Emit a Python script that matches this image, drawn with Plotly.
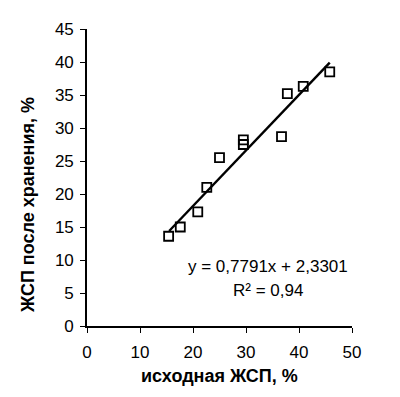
import plotly.graph_objects as go

# Data
x_initial = [15.4, 17.6, 20.9, 22.6, 25.0, 29.5, 29.5, 36.7, 37.8, 40.8, 45.8]
y_after = [13.6, 15.0, 17.3, 21.0, 25.5, 28.2, 27.5, 28.7, 35.2, 36.3, 38.5]
trend_x = [15.5, 45.8]
trend_y = [14.4, 39.9]
equation_text = "y = 0,7791x + 2,3301"
r2_text = "R² = 0,94"
x_ticks = [0, 10, 20, 30, 40, 50]
y_ticks = [0, 5, 10, 15, 20, 25, 30, 35, 40, 45]

FONT = "Liberation Sans, Arial, sans-serif"

fig = go.Figure()
fig.add_trace(go.Scatter(
    x=trend_x, y=trend_y, mode="lines",
    line=dict(color="black", width=2.4), showlegend=False, hoverinfo="skip"))
fig.add_trace(go.Scatter(
    x=x_initial, y=y_after, mode="markers",
    marker=dict(symbol="square-open", size=9, color="black",
                line=dict(color="black", width=1.8)),
    showlegend=False))

fig.update_layout(
    width=392, height=389,
    margin=dict(l=79, r=48, t=21, b=71),
    paper_bgcolor="white", plot_bgcolor="white",
    font=dict(family=FONT, size=17, color="black"),
    xaxis=dict(range=[0, 50], tickvals=x_ticks, showgrid=False, zeroline=False,
               showline=True, linecolor="black", linewidth=1.6,
               ticks="outside", ticklen=5, tickcolor="black", tickwidth=1.3,
               tickfont=dict(size=17), ticklabelstandoff=5, fixedrange=True),
    yaxis=dict(range=[0, 45], tickvals=y_ticks, showgrid=False, zeroline=False,
               showline=True, linecolor="black", linewidth=1.6,
               ticks="outside", ticklen=5, tickcolor="black", tickwidth=1.3,
               tickfont=dict(size=17), ticklabelstandoff=3, fixedrange=True),
    annotations=[
        dict(text=equation_text, xref="x", yref="y", x=34.2, y=9.0,
             showarrow=False, font=dict(size=17, family=FONT)),
        dict(text=r2_text, xref="x", yref="y", x=34.2, y=5.4,
             showarrow=False, font=dict(size=17, family=FONT)),
        dict(text="<b>исходная ЖСП, %</b>", xref="x", yref="paper",
             x=25, y=-0.17, yanchor="middle", showarrow=False,
             font=dict(size=18, family=FONT)),
        dict(text="<b>ЖСП после хранения, %</b>", xref="paper", yref="y",
             x=-0.22, xanchor="center", y=18.3, yanchor="middle", textangle=-90,
             showarrow=False, font=dict(size=18, family=FONT)),
    ],
)

fig.write_html("out.html")
